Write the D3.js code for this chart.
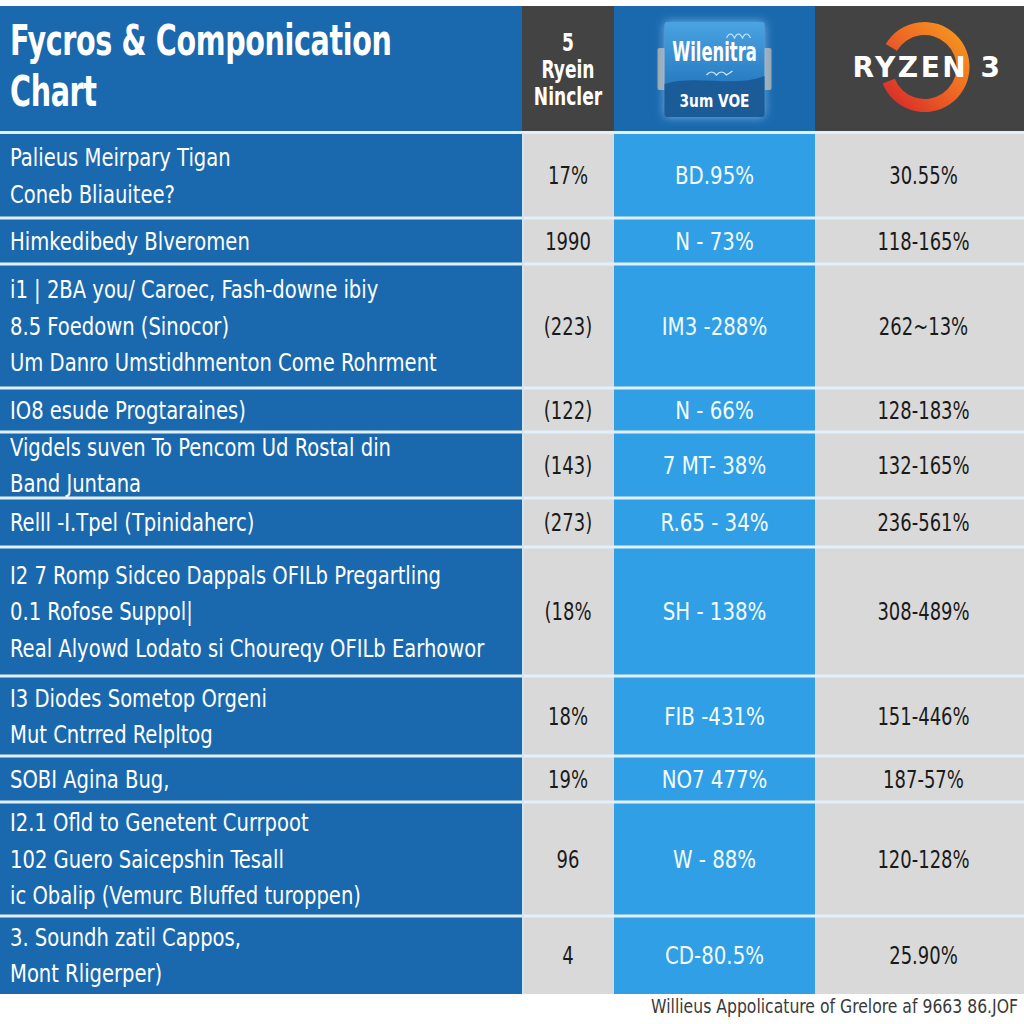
<!DOCTYPE html>
<html><head><meta charset="utf-8">
<script src="https://cdn.jsdelivr.net/npm/d3@7"></script>
<style>html,body{margin:0;padding:0;background:#fff;} svg{display:block;}</style>
</head><body>
<script>
// ---------- data ----------
const titleLines = ["Fycros & Componication", "Chart"];
const col2Header = ["5", "Ryein", "Nincler"];
const col3Logo = ["Wilenitra", "3um VOE"];
const col4Logo = "RYZEN 3";
const rowLabels = [
  ["Palieus Meirpary Tigan", "Coneb Bliauitee?"],
  ["Himkedibedy Blveromen"],
  ["i1 | 2BA you/ Caroec, Fash-downe ibiy", "8.5 Foedown (Sinocor)", "Um Danro Umstidhmenton Come Rohrment"],
  ["IO8 esude Progtaraines)"],
  ["Vigdels suven To Pencom Ud Rostal din", "Band Juntana"],
  ["Relll -I.Tpel (Tpinidaherc)"],
  ["I2 7 Romp Sidceo Dappals OFILb Pregartling", "0.1 Rofose Suppol|", "Real Alyowd Lodato si Choureqy OFILb Earhowor"],
  ["I3 Diodes Sometop Orgeni", "Mut Cntrred Relpltog"],
  ["SOBI Agina Bug,"],
  ["I2.1 Ofld to Genetent Currpoot", "102 Guero Saicepshin Tesall", "ic Obalip (Vemurc Bluffed turoppen)"],
  ["3. Soundh zatil Cappos,", "Mont Rligerper)"]
];
const col2Values = ["17%", "1990", "(223)", "(122)", "(143)", "(273)", "(18%", "18%", "19%", "96", "4"];
const col3Values = ["BD.95%", "N - 73%", "IM3 -288%", "N - 66%", "7 MT- 38%", "R.65 - 34%", "SH - 138%", "FIB -431%", "NO7 477%", "W - 88%", "CD-80.5%"];
const col4Values = ["30.55%", "118-165%", "262~13%", "128-183%", "132-165%", "236-561%", "308-489%", "151-446%", "187-57%", "120-128%", "25.90%"];
const footerText = "Willieus Appolicature of Grelore af 9663 86.JOF";

// ---------- layout ----------
const W = 1024, H = 1024;
const rowWeights = [85, 46, 124, 44, 66, 49, 129, 80, 46, 114, 78];
const colWeights = [522, 92, 201, 209];
const headerTop = 6, bodyTop = 133, bodyBottom = 994;

const cumRows = [0]; rowWeights.forEach(w => cumRows.push(cumRows[cumRows.length-1] + w));
const yScale = d3.scaleLinear().domain([0, cumRows[cumRows.length-1]]).range([bodyTop, bodyBottom]);
const cumCols = [0]; colWeights.forEach(w => cumCols.push(cumCols[cumCols.length-1] + w));
const xScale = d3.scaleLinear().domain([0, cumCols[cumCols.length-1]]).range([0, W]);

const C = {
  blue: "#1a69ae", bright: "#309fe5", gray: "#d9d9d9", dark: "#434343",
  sep: "#e4f0f9", text: "#1a1a1a"
};
const FONT = "'DejaVu Sans Condensed','DejaVu Sans',sans-serif";

const svg = d3.select("body").append("svg").attr("width", W).attr("height", H);
svg.append("rect").attr("width", W).attr("height", H).attr("fill", "#fff");

function txt(parent, x, y, s, o) {
  return parent.append("text")
    .attr("transform", `translate(${x},${y}) scale(${o.sx || 1},1)`)
    .attr("text-anchor", o.anchor || "start")
    .attr("dy", o.dy || null)
    .attr("fill", o.fill || "#fff")
    .attr("font-family", o.family || FONT)
    .attr("font-weight", o.weight || "normal")
    .attr("font-size", o.size)
    .attr("letter-spacing", o.ls || null)
    .text(s);
}

const defs = svg.append("defs");
const ringGrad = defs.append("linearGradient").attr("id", "ring").attr("x1", "1").attr("y1", "0").attr("x2", "0").attr("y2", "1");
ringGrad.append("stop").attr("offset", "0%").attr("stop-color", "#f7a21e");
ringGrad.append("stop").attr("offset", "45%").attr("stop-color", "#ef6c23");
ringGrad.append("stop").attr("offset", "100%").attr("stop-color", "#d3202b");
const tileGrad = defs.append("linearGradient").attr("id", "tile").attr("x1", "0").attr("y1", "0").attr("x2", "0").attr("y2", "1");
tileGrad.append("stop").attr("offset", "0%").attr("stop-color", "#4aa3e2");
tileGrad.append("stop").attr("offset", "60%").attr("stop-color", "#2b7fc4");
tileGrad.append("stop").attr("offset", "100%").attr("stop-color", "#1c5f9e");
const glow = defs.append("filter").attr("id", "glow").attr("x", "-30%").attr("y", "-30%").attr("width", "160%").attr("height", "160%");
glow.append("feGaussianBlur").attr("in", "SourceAlpha").attr("stdDeviation", 5).attr("result", "b");
glow.append("feFlood").attr("flood-color", "#9fd4ff").attr("flood-opacity", 0.7);
glow.append("feComposite").attr("in2", "b").attr("operator", "in").attr("result", "g");
const gm = glow.append("feMerge"); gm.append("feMergeNode").attr("in", "g"); gm.append("feMergeNode").attr("in", "SourceGraphic");

// ---------- header ----------
const colX = i => xScale(cumCols[i]);
const colW = i => xScale(cumCols[i+1]) - xScale(cumCols[i]);
const colCx = i => colX(i) + colW(i) / 2;
const headerFills = [C.blue, C.dark, C.blue, C.dark];
headerFills.forEach((f, i) => {
  svg.append("rect").attr("x", colX(i)).attr("y", headerTop).attr("width", colW(i)).attr("height", bodyTop - headerTop).attr("fill", f);
});
svg.append("rect").attr("x", 0).attr("y", bodyTop - 2).attr("width", W).attr("height", 3).attr("fill", C.sep);

const tg = svg.append("g");
titleLines.forEach((t, i) => txt(tg, 10, 55 + i * 51, t, {size: 43, weight: "bold", sx: 0.74, ls: -0.5}));

const hg = svg.append("g");
col2Header.forEach((t, i) => txt(hg, colCx(1), 51 + i * 27, t, {size: 25, weight: "bold", sx: 0.76, anchor: "middle"}));

// col 3 logo tile
const tcx = colCx(2), tcy = 70;
const lg = svg.append("g");
lg.append("rect").attr("x", tcx - 57).attr("y", tcy - 22).attr("width", 8).attr("height", 42).attr("rx", 2).attr("fill", "#9aa6b0");
lg.append("rect").attr("x", tcx + 49).attr("y", tcy - 22).attr("width", 8).attr("height", 42).attr("rx", 2).attr("fill", "#9aa6b0");
lg.append("rect").attr("x", tcx - 50).attr("y", tcy - 48).attr("width", 100).attr("height", 95).attr("rx", 3)
  .attr("fill", "url(#tile)").attr("filter", "url(#glow)");
lg.append("path").attr("d", `M${tcx-50},${tcy+14} C${tcx-20},${tcy+4} ${tcx+20},${tcy+18} ${tcx+50},${tcy+6} L${tcx+50},${tcy+44} Q${tcx+50},${tcy+47} ${tcx+47},${tcy+47} L${tcx-47},${tcy+47} Q${tcx-50},${tcy+47} ${tcx-50},${tcy+44} Z`)
  .attr("fill", "#1a5b98");
txt(lg, tcx, tcy - 9, col3Logo[0], {size: 26, weight: "bold", sx: 0.7, anchor: "middle"});
txt(lg, tcx, tcy + 37, col3Logo[1], {size: 18, weight: "bold", sx: 0.85, anchor: "middle"});
lg.append("path").attr("d", `M${tcx+12},${tcy-32} q4,-8 8,0 q4,-8 8,0 q4,-8 8,0`).attr("fill", "none").attr("stroke", "#cfe8ff").attr("stroke-width", 1.2);
lg.append("path").attr("d", `M${tcx-8},${tcy+5} q5,-6 10,0 q5,-6 10,0 l6,-4`).attr("fill", "none").attr("stroke", "#cfe8ff").attr("stroke-width", 1.2);

// col 4 ryzen logo
const rcx = colCx(3) + 5, rcy = 67;
const arc = d3.arc().innerRadius(32).outerRadius(45).startAngle(-0.33 * Math.PI).endAngle(1.38 * Math.PI);
svg.append("path").attr("transform", `translate(${rcx},${rcy})`).attr("d", arc()).attr("fill", "url(#ring)");
txt(svg, rcx + 3, rcy + 10, col4Logo, {size: 28, weight: "bold", family: "'DejaVu Sans',sans-serif", ls: 2.5, anchor: "middle"});

// ---------- body ----------
const bodyFills = [C.blue, C.gray, C.bright, C.gray];
bodyFills.forEach((f, i) => {
  svg.append("rect").attr("x", colX(i)).attr("y", bodyTop + 1).attr("width", colW(i)).attr("height", bodyBottom - bodyTop - 1).attr("fill", f);
});
svg.append("g").selectAll("rect").data(cumRows.slice(1, -1)).join("rect")
  .attr("x", 0).attr("width", W).attr("y", d => yScale(d) - 1.5).attr("height", 3).attr("fill", C.sep);
svg.append("rect").attr("x", colX(1)).attr("y", bodyTop).attr("width", 2).attr("height", bodyBottom - bodyTop).attr("fill", "#cfe6f7");

const rows = rowLabels.map((lines, i) => ({
  lines, c2: col2Values[i], c3: col3Values[i], c4: col4Values[i],
  cy: (yScale(cumRows[i]) + yScale(cumRows[i+1])) / 2
}));
const bg = svg.append("g");
rows.forEach(r => {
  const n = r.lines.length, lh = 36.5;
  r.lines.forEach((l, j) => txt(bg, 10, r.cy + (j - (n - 1) / 2) * lh, l, {size: 25, sx: 0.87, dy: "0.35em"}));
  txt(bg, colCx(1), r.cy, r.c2, {size: 25, sx: 0.8, dy: "0.35em", anchor: "middle", fill: C.text});
  txt(bg, colCx(2), r.cy, r.c3, {size: 25, sx: 0.88, dy: "0.35em", anchor: "middle", fill: "#f4fbff"});
  txt(bg, colCx(3) + 4, r.cy, r.c4, {size: 25, sx: 0.8, dy: "0.35em", anchor: "middle", fill: C.text});
});

txt(svg, W - 6, 1013, footerText, {size: 20, sx: 0.87, anchor: "end", fill: "#3a3a3a"});
</script>
</body></html>
